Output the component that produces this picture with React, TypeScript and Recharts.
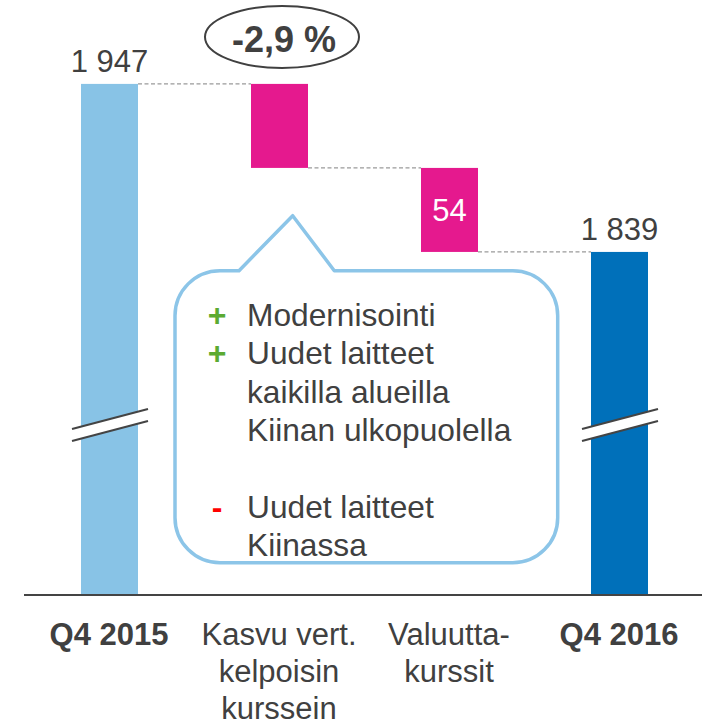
import React from 'react';
import { BarChart, Bar, XAxis, YAxis, LabelList, Customized } from 'recharts';

// waterfall: net sales Q4 2015 -> Q4 2016 (MEUR)
const categories = ['Q4 2015', 'Kasvu vert. kelpoisin kurssein', 'Valuutta-kurssit', 'Q4 2016'];
const tickLines = [['Q4 2015'], ['Kasvu vert.', 'kelpoisin', 'kurssein'], ['Valuutta-', 'kurssit'], ['Q4 2016']];
const boldTicks = ['Q4 2015', 'Q4 2016'];
const openingValue = 1947;
const changeValues = [-54, -54];
const closingValue = 1839;
const hiddenLabels = ['Kasvu vert. kelpoisin kurssein'];
const changeText = '-2,9 %';
const bubbleItems = [
    { sign: '+', lines: ['Modernisointi'] },
    { sign: '+', lines: ['Uudet laitteet', 'kaikilla alueilla', 'Kiinan ulkopuolella'] },
    { sign: '', lines: [''] },
    { sign: '-', lines: ['Uudet laitteet', 'Kiinassa'] },
];

const FONT = '"Liberation Sans", Arial, sans-serif';
const TEXT = '#404040';
const COLORS: Record<string, string> = { open: '#88C3E6', change: '#E5198E', close: '#0070BA' };
const WIDTH = 710;
const MARGIN = { top: 17, right: 6, bottom: 0, left: 24 };
const BAND = (WIDTH - MARGIN.left - MARGIN.right) / categories.length;

const fmt = (v: number) => String(Math.abs(v)).replace(/\B(?=(\d{3})+(?!\d))/g, ' ');

const rows: any[] = [];
let running = openingValue;
rows.push({ name: categories[0], kind: 'open', value: openingValue, label: fmt(openingValue) });
changeValues.forEach((c, i) => {
    const next = running + c;
    rows.push({ name: categories[i + 1], kind: 'change', value: [Math.min(running, next), Math.max(running, next)], delta: c, label: fmt(c) });
    running = next;
});
rows.push({ name: categories[categories.length - 1], kind: 'close', value: closingValue, label: fmt(closingValue) });

const BarShape = (props: any) => {
    const { x, y, width, height, payload, index } = props;
    const bottom = y + height;
    const isTotal = payload.kind !== 'change';
    // connector level = running total after this bar
    const level = payload.kind === 'change' && payload.delta < 0 ? bottom : y;
    const last = index === rows.length - 1;
    return (
        <g>
            <rect x={x} y={y} width={width} height={height} fill={COLORS[payload.kind]} />
            {!last && (
                <line x1={x + width} x2={x + BAND} y1={level} y2={level} stroke="#9a9a9a" strokeWidth={1.2} strokeDasharray="4 2.5" />
            )}
            {isTotal && (
                <g>
                    <polygon
                        points={`${x - 9},${bottom - 166} ${x + width + 10},${bottom - 186} ${x + width + 10},${bottom - 174} ${x - 9},${bottom - 154}`}
                        fill="#fff"
                    />
                    <line x1={x - 9} y1={bottom - 166} x2={x + width + 10} y2={bottom - 186} stroke="#444" strokeWidth={2} />
                    <line x1={x - 9} y1={bottom - 154} x2={x + width + 10} y2={bottom - 174} stroke="#444" strokeWidth={2} />
                </g>
            )}
        </g>
    );
};

const renderLabel = (props: any) => {
    const { x, y, width, height, index } = props;
    const row = rows[index];
    if (!row || hiddenLabels.includes(row.name)) return null;
    if (row.kind === 'change') {
        return (
            <text x={x + width / 2} y={y + height / 2 + 11} textAnchor="middle" fontSize={31} fill="#fff" fontFamily={FONT}>
                {row.label}
            </text>
        );
    }
    return (
        <text x={x + width / 2} y={y - 12} textAnchor="middle" fontSize={31} fill={TEXT} fontFamily={FONT}>
            {row.label}
        </text>
    );
};

const CategoryTick = (props: any) => {
    const { x, y, payload } = props;
    const idx = categories.indexOf(payload.value);
    const lines = tickLines[idx] || [payload.value];
    return (
        <text x={x} y={y} textAnchor="middle" fontSize={31} fill={TEXT} fontFamily={FONT}
            fontWeight={boldTicks.includes(payload.value) ? 'bold' : 'normal'}>
            {lines.map((l, i) => (
                <tspan key={i} x={x} dy={i === 0 ? 50 : 37}>{l}</tspan>
            ))}
        </text>
    );
};

const Annotations = () => {
    const r = 45;
    const L = 175, R = 557.7, T = 270.7, B = 562.7;
    const path = `M 239 ${T} L 292.7 215.7 L 334.3 ${T} L ${R - r} ${T} A ${r} ${r} 0 0 1 ${R} ${T + r} L ${R} ${B - r} A ${r} ${r} 0 0 1 ${R - r} ${B} L ${L + r} ${B} A ${r} ${r} 0 0 1 ${L} ${B - r} L ${L} ${T + r} A ${r} ${r} 0 0 1 ${L + r} ${T} Z`;
    let line = 0;
    return (
        <g fontFamily={FONT}>
            <ellipse cx={282} cy={37} rx={77} ry={31} fill="#fff" stroke={TEXT} strokeWidth={2} />
            <text x={284} y={52} textAnchor="middle" fontSize={36} fontWeight="bold" fill={TEXT}>{changeText}</text>
            <path d={path} fill="#fff" stroke="#8CC5E8" strokeWidth={3.5} strokeLinejoin="round" />
            {bubbleItems.map((item, k) => {
                const start = line;
                line += item.lines.length;
                const by = 326 + start * 38.3;
                return (
                    <g key={k}>
                        {item.sign && (
                            <text x={217} y={by} textAnchor="middle" fontSize={32} fontWeight="bold"
                                fill={item.sign === '+' ? '#5BAA32' : '#FF0000'}>{item.sign}</text>
                        )}
                        {item.lines.map((t, j) => (
                            <text key={j} x={247} y={by + j * 38.3} fontSize={31.7} fill={TEXT}>{t}</text>
                        ))}
                    </g>
                );
            })}
        </g>
    );
};

export default function App() {
    return (
        <div style={{ position: 'absolute', left: 0, top: 0, width: 702, height: 725, overflow: 'hidden', background: '#fff' }}>
            <BarChart width={WIDTH} height={725} data={rows} margin={MARGIN} barCategoryGap={0}>
                <XAxis
                    dataKey="name"
                    height={130}
                    interval={0}
                    tickLine={false}
                    tickSize={0}
                    tickMargin={0}
                    axisLine={{ stroke: '#444', strokeWidth: 2 }}
                    tick={<CategoryTick />}
                />
                <YAxis hide type="number" domain={[1618.5, 1990]} allowDataOverflow />
                <Bar dataKey="value" barSize={57} isAnimationActive={false} shape={<BarShape />}>
                    <LabelList dataKey="value" content={renderLabel} />
                </Bar>
                <Customized component={<Annotations />} />
            </BarChart>
        </div>
    );
}
